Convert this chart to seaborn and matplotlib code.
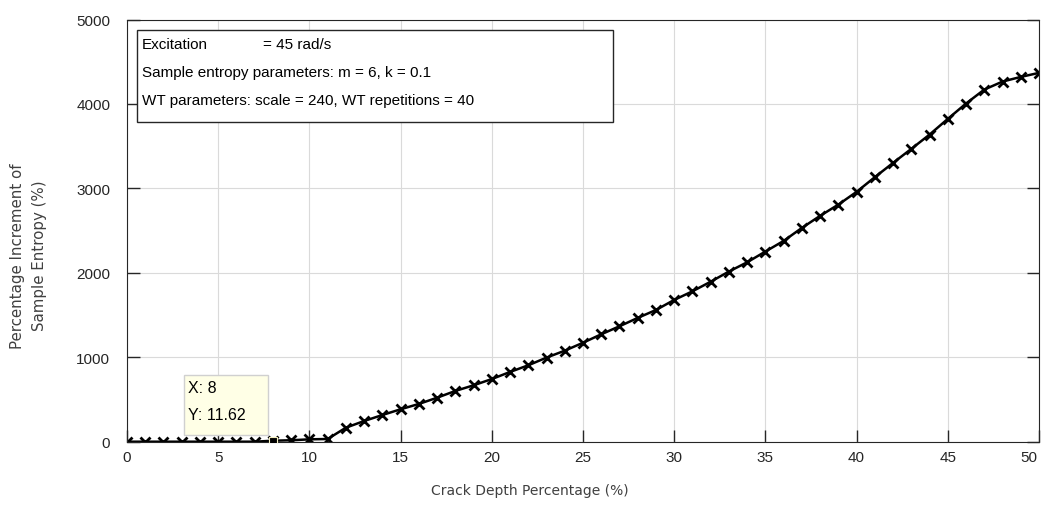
import numpy as np
import pandas as pd
import matplotlib
matplotlib.use("Agg")
import matplotlib.pyplot as plt
import matplotlib.transforms as mtransforms
import seaborn as sns
from matplotlib.patches import Rectangle

crack_depth = list(range(0, 51))
entropy_increment = [0, 0, 0, 0, 0, 0, 0, 0, 11.62, 17, 28, 32,
                     166, 245, 316, 384, 447, 521, 601, 668, 742,
                     826, 905, 996, 1078, 1172, 1272, 1367, 1466, 1560, 1679,
                     1781, 1895, 2015, 2125, 2252, 2378, 2532, 2675, 2808, 2959,
                     3133, 3302, 3468, 3637, 3823, 4005, 4170, 4265, 4320, 4368]
xticks = [0, 5, 10, 15, 20, 25, 30, 35, 40, 45, 50]
yticks = [0, 1000, 2000, 3000, 4000, 5000]
info_lines = ["Excitation", "Sample entropy parameters: m = 6, k = 0.1",
              "WT parameters: scale = 240, WT repetitions = 40"]
excitation_value = "= 45 rad/s"
tip_x, tip_y = 8, 11.62

df = pd.DataFrame({"x": crack_depth, "y": entropy_increment})

sns.set_theme(style="whitegrid")
plt.rcParams['font.family'] = ['Liberation Sans', 'DejaVu Sans']

fig = plt.figure(figsize=(10.43, 5.06), dpi=100)
ax = fig.add_axes([127/1043, (506-442.7)/506, (1039-127)/1043, (442.7-20.5)/506])

sns.lineplot(data=df, x="x", y="y", ax=ax, color="black", linewidth=1.8,
             marker="x", markersize=7, markeredgewidth=2, markeredgecolor="black")
ax.plot([tip_x], [tip_y], marker="s", color="black", markersize=6,
        markeredgecolor="#f5f0c0", markeredgewidth=0.8, zorder=5)

ax.set_xlim(0, 50)
ax.set_ylim(0, 5000)
ax.set_xticks(xticks)
ax.set_yticks(yticks)
ax.grid(True, color="#dadada", linewidth=0.8)
ax.set_facecolor("white")
for s in ["left", "bottom", "top", "right"]:
    ax.spines[s].set_visible(True)
    ax.spines[s].set_color("#262626")
    ax.spines[s].set_linewidth(0.8)
ax.tick_params(axis="both", direction="in", length=9, width=1, colors="#262626",
               labelsize=11, labelcolor="#262626", right=True, left=True, bottom=True)
ax.tick_params(axis="x", pad=6)
ax.tick_params(axis="y", pad=12)

# shift last x tick label slightly left so it stays inside the figure
last = ax.get_xticklabels()[-1]
last.set_transform(last.get_transform() + mtransforms.ScaledTranslation(-10/100, 0, fig.dpi_scale_trans))

ax.set_xlabel("Crack Depth Percentage (%)", family="DejaVu Sans", fontsize=10,
              color="#404040", va="top")
ax.xaxis.set_label_coords((530-127)/912, (442.7-484)/422.2)
ax.set_ylabel("Percentage Increment of\nSample Entropy (%)", family="DejaVu Sans",
              fontsize=10.8, color="#404040", linespacing=1.55)
ax.yaxis.set_label_coords((47-127)/912, (442.7-256)/422.2)

# info box
ax.add_patch(Rectangle((0.011, 0.758), 0.522, 0.2175, transform=ax.transAxes,
                       facecolor="white", edgecolor="#262626", linewidth=1.0, zorder=6))
ys = [0.943, 0.876, 0.810]
for t, yy in zip(info_lines, ys):
    ax.text(0.0165, yy, t, transform=ax.transAxes, fontsize=11, va="center",
            ha="left", color="black", zorder=7)
ax.text((263-127)/912, ys[0], excitation_value, transform=ax.transAxes, fontsize=11,
        va="center", ha="left", color="black", zorder=7)

# datatip box
ax.add_patch(Rectangle(((184.3-127)/912, (442.7-436)/422.2), 84/912, 60/422.2,
                       transform=ax.transAxes, facecolor="#ffffe6", edgecolor="#d0d0d0",
                       linewidth=1.0, zorder=6))
ax.text((188-127)/912, (442.7-389)/422.2, f"X: {tip_x}", transform=ax.transAxes,
        fontsize=11.5, va="center", ha="left", color="black", zorder=7)
ax.text((188-127)/912, (442.7-416)/422.2, f"Y: {tip_y}", transform=ax.transAxes,
        fontsize=11.5, va="center", ha="left", color="black", zorder=7)

fig.savefig("out.png", dpi=100, facecolor="white")
